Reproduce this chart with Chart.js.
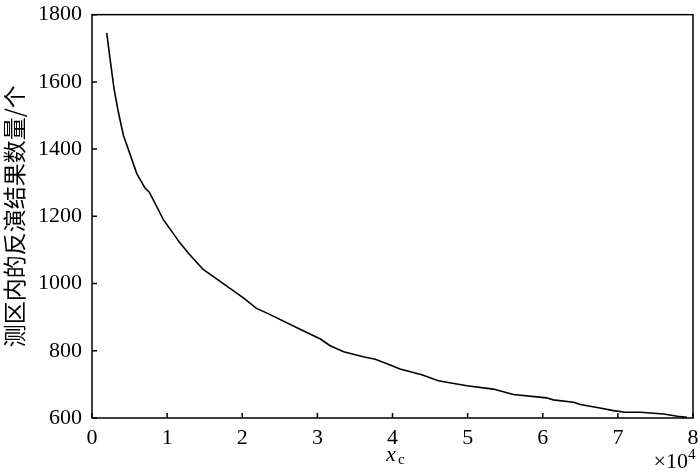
<!DOCTYPE html>
<html lang="zh">
  <head>
    <meta charset="utf-8" />
    <title>测区内的反演结果数量</title>
    <script src="https://cdn.jsdelivr.net/npm/chart.js"></script>
    <style>
      html, body { margin: 0; padding: 0; background: #ffffff; }
      #wrap { width: 700px; height: 476px; position: relative; }
    </style>
  </head>
  <body>
    <div id="wrap"><canvas id="curveChart"></canvas></div>
    <script>
      // x_c in units of 10^4, counts
      const xcValues = [0.196, 0.24, 0.293, 0.35, 0.417, 0.595, 0.706, 0.763, 0.95, 1.17, 1.30, 1.48, 1.79, 2.01, 2.19, 2.33, 2.77, 3.04, 3.17, 3.35, 3.61, 3.77, 3.97, 4.10, 4.39, 4.61, 4.99, 5.34, 5.61, 6.05, 6.14, 6.41, 6.50, 6.76, 6.94, 7.10, 7.30, 7.61, 7.79, 7.92];
      const counts = [1746, 1669, 1580, 1511, 1442, 1328, 1284, 1272, 1190, 1121, 1086, 1042, 993, 958, 926, 912, 864, 835, 815, 797, 782, 775, 758, 746, 729, 711, 696, 686, 670, 660, 654, 647, 640, 630, 622, 617, 617, 612, 605, 602];
      const xTicks = [0, 1, 2, 3, 4, 5, 6, 7, 8];
      const yTicks = [600, 800, 1000, 1200, 1400, 1600, 1800];
      const yTitle = "测区内的反演结果数量/个";

      const points = xcValues.map((x, i) => ({ x: x, y: counts[i] }));
      const serif = "'Liberation Serif', 'Times New Roman', serif";

      // box around the plot, inward ticks, x label and multiplier
      const framePlugin = {
        id: "frame",
        afterDraw(chart) {
          const ctx = chart.ctx;
          const a = chart.chartArea;
          const xs = chart.scales.x;
          const ys = chart.scales.y;
          ctx.save();
          ctx.strokeStyle = "#000";
          ctx.lineWidth = 1.5;
          ctx.strokeRect(a.left, a.top, a.right - a.left, a.bottom - a.top);
          ctx.beginPath();
          xTicks.forEach((v) => {
            const px = xs.getPixelForValue(v);
            ctx.moveTo(px, a.bottom);
            ctx.lineTo(px, a.bottom - 5);
          });
          yTicks.forEach((v) => {
            const py = ys.getPixelForValue(v);
            ctx.moveTo(a.left, py);
            ctx.lineTo(a.left + 5, py);
          });
          ctx.stroke();

          ctx.fillStyle = "#000";
          ctx.textBaseline = "alphabetic";
          ctx.font = "italic 22px " + serif;
          ctx.textAlign = "left";
          ctx.fillText("x", 386, 461);
          ctx.font = "15px " + serif;
          ctx.fillText("c", 398, 464);

          ctx.textAlign = "right";
          ctx.font = "22px " + serif;
          ctx.fillText("×10", 688, 468);
          ctx.textAlign = "left";
          ctx.font = "15px " + serif;
          ctx.fillText("4", 688, 459);
          ctx.restore();
        },
      };

      new Chart(document.getElementById("curveChart"), {
        type: "line",
        data: {
          datasets: [
            {
              data: points,
              borderColor: "#000000",
              borderWidth: 1.6,
              pointRadius: 0,
              tension: 0,
              fill: false,
            },
          ],
        },
        options: {
          responsive: true,
          maintainAspectRatio: false,
          animation: false,
          layout: { padding: { left: 0, right: 7, top: 0, bottom: 0 } },
          plugins: {
            legend: { display: false },
            tooltip: { enabled: false },
          },
          scales: {
            x: {
              type: "linear",
              min: 0,
              max: 8,
              afterBuildTicks(scale) {
                scale.ticks = xTicks.map((v) => ({ value: v }));
              },
              afterFit(scale) {
                scale.height = 58;
              },
              grid: { display: false },
              border: { display: false },
              ticks: {
                color: "#000",
                padding: -1,
                maxRotation: 0,
                callback: (v) => String(v),
                font: { family: serif, size: 22 },
              },
            },
            y: {
              min: 600,
              max: 1800,
              afterBuildTicks(scale) {
                scale.ticks = yTicks.map((v) => ({ value: v }));
              },
              afterFit(scale) {
                scale.width = 92;
              },
              grid: { display: false },
              border: { display: false },
              ticks: {
                color: "#000",
                padding: 2,
                callback: (v) => String(v),
                font: { family: serif, size: 22, lineHeight: 1.15 },
              },
              title: {
                display: true,
                text: yTitle,
                color: "#000",
                padding: 0,
                font: { family: "'Noto Sans CJK SC', sans-serif", size: 23 },
              },
            },
          },
        },
        plugins: [framePlugin],
      });
    </script>
  </body>
</html>
